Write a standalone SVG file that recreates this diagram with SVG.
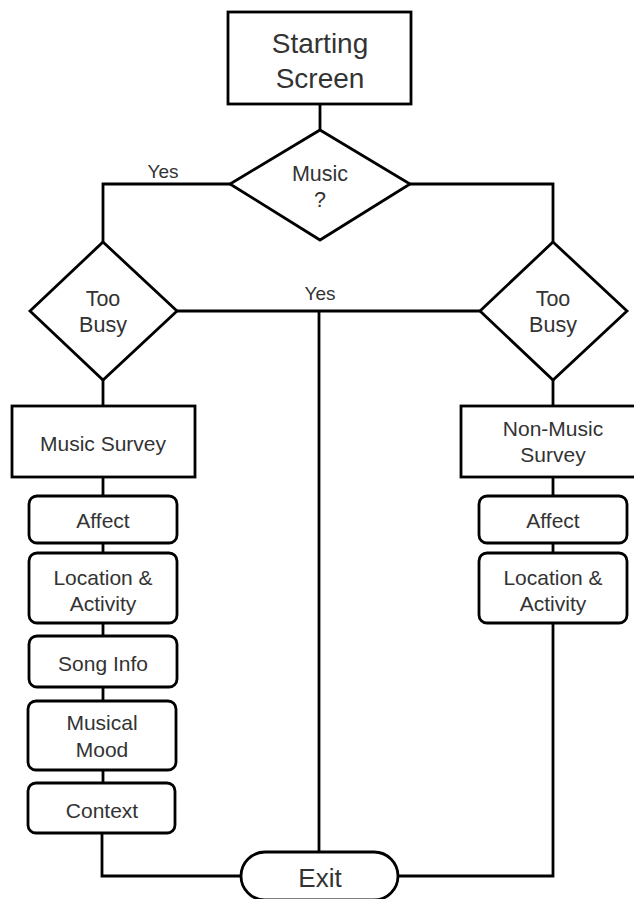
<svg xmlns="http://www.w3.org/2000/svg" width="634" height="899" viewBox="0 0 634 899">
<style>
.shape{fill:#fff;stroke:#000;stroke-width:2.8}
.line{fill:none;stroke:#000;stroke-width:2.8}
text{font-family:"Liberation Sans",Arial,sans-serif;fill:#333;text-anchor:middle}
.big{font-size:28px}
.exit{font-size:26px}
.yes{font-size:19px}
.mid{font-size:21.5px}
.sm{font-size:21px}
</style>
<rect width="634" height="899" fill="#fff"/>
<g id="connectors">
<path class="line" d="M320,104 V130"/>
<path class="line" d="M230,184 H103 V242"/>
<path class="line" d="M410,184 H553 V242"/>
<path class="line" d="M177,311 H480"/>
<path class="line" d="M319,311 V852"/>
<path class="line" d="M103,380 V406"/>
<path class="line" d="M553,380 V406"/>
<path class="line" d="M103,477 V496 M103,543 V553 M103,623 V636 M103,687 V701 M103,770 V783"/>
<path class="line" d="M102,833 V876 H242"/>
<path class="line" d="M553,477 V496 M553,543 V553"/>
<path class="line" d="M553,623 V876 H398"/>
<text class="yes" x="163" y="178">Yes</text>
<text class="yes" x="320" y="300">Yes</text>
</g>
<g id="start">
<rect class="shape" x="228" y="12" width="183" height="92"/>
<text class="big" x="320" y="53">Starting</text>
<text class="big" x="320" y="88">Screen</text>
</g>
<g id="music">
<polygon class="shape" points="320,130 410,184 320,240 230,184"/>
<text class="mid" x="320" y="181">Music</text>
<text class="mid" x="320" y="207">?</text>
</g>
<g id="busy-left">
<polygon class="shape" points="103,242 177,311 103,380 30,311"/>
<text class="mid" x="103" y="306">Too</text>
<text class="mid" x="103" y="332">Busy</text>
</g>
<g id="busy-right">
<polygon class="shape" points="553,242 627,311 553,380 480,311"/>
<text class="mid" x="553" y="306">Too</text>
<text class="mid" x="553" y="332">Busy</text>
</g>
<g id="music-survey">
<rect class="shape" x="12" y="406" width="183" height="71"/>
<text class="sm" x="103" y="451">Music Survey</text>
</g>
<g id="affect-left">
<rect class="shape" x="29" y="496" width="148" height="47" rx="8"/>
<text class="sm" x="103" y="528">Affect</text>
</g>
<g id="location-left">
<rect class="shape" x="29" y="553" width="148" height="70" rx="8"/>
<text class="sm" x="103" y="585">Location &amp;</text>
<text class="sm" x="103" y="611">Activity</text>
</g>
<g id="song-info">
<rect class="shape" x="29" y="636" width="148" height="51" rx="8"/>
<text class="sm" x="103" y="671">Song Info</text>
</g>
<g id="musical-mood">
<rect class="shape" x="28" y="701" width="148" height="69" rx="8"/>
<text class="sm" x="102" y="730">Musical</text>
<text class="sm" x="102" y="757">Mood</text>
</g>
<g id="context">
<rect class="shape" x="28" y="783" width="147" height="50" rx="8"/>
<text class="sm" x="102" y="818">Context</text>
</g>
<g id="non-music-survey">
<rect class="shape" x="461" y="406" width="184" height="71"/>
<text class="sm" x="553" y="436">Non-Music</text>
<text class="sm" x="553" y="462">Survey</text>
</g>
<g id="affect-right">
<rect class="shape" x="479" y="496" width="148" height="47" rx="8"/>
<text class="sm" x="553" y="528">Affect</text>
</g>
<g id="location-right">
<rect class="shape" x="479" y="553" width="148" height="70" rx="8"/>
<text class="sm" x="553" y="585">Location &amp;</text>
<text class="sm" x="553" y="611">Activity</text>
</g>
<g id="exit">
<rect class="shape" x="241" y="852" width="157" height="48" rx="24"/>
<text class="exit" x="320" y="887">Exit</text>
</g>
</svg>
